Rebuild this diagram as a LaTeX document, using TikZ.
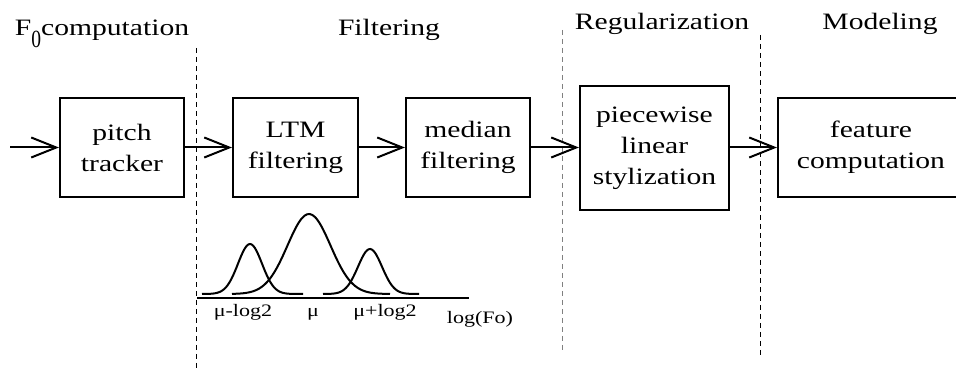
\documentclass[tikz,border=0pt]{standalone}
\usepackage{fontspec}
\setmainfont{Liberation Serif}[FakeStretch=1.26]
\usetikzlibrary{arrows.meta}

\begin{document}
\begin{tikzpicture}[x=1pt,y=-1pt]
    \tikzset{blk/.style={draw, line width=2.2pt, align=center, inner sep=0pt,
        font=\fontsize{23.5}{31}\selectfont}}
    \tikzset{flow/.style={line width=2pt, -{Straight Barb[length=25pt,width=20pt]}}}
    \tikzset{stage/.style={anchor=base, inner sep=0pt, font=\fontsize{23.5}{28}\selectfont}}
    \tikzset{tick/.style={anchor=base, inner sep=0pt, font=\fontsize{17.5}{20}\selectfont}}
    \tikzset{sepline/.style={line width=1pt, dash pattern=on 5pt off 4pt}}
    \tikzset{bump/.style={line width=2pt, smooth, samples=60}}
    \useasboundingbox (0,0) rectangle (956,371);
    % stage titles
    \node[stage] (tF0) at (102,36) {F\raisebox{-0.47em}{\scalebox{0.66}[1.05]{0}}computation};
    \node[stage] (tFilt) at (389,36) {Filtering};
    \node[stage] (tReg) at (662,30) {Regularization};
    \node[stage] (tMod) at (880,30) {Modeling};
    % separators
    \draw[sepline] (196,48) -- (196,371);
    \draw[sepline, gray] (562,30) -- (562,352);
    \draw[sepline] (760,35) -- (760,358);
    % blocks
    \node[blk, minimum width=124pt, minimum height=99pt] (pitch) at (122,147.5) {pitch\\tracker};
    \node[blk, minimum width=125pt, minimum height=99pt] (ltm) at (295.5,147.5) {LTM\\filtering};
    \node[blk, minimum width=124pt, minimum height=99pt] (median) at (468,147.5) {median\\filtering};
    \node[blk, minimum width=149pt, minimum height=124pt] (stylize) at (654.5,148) {piecewise\\linear\\stylization};
    \node[blk, minimum width=186pt, minimum height=99pt] (feature) at (871,147.5) {feature\\computation};
    \coordinate (input) at (10,147.5);
    \draw[flow] (input) -- (pitch.west);
    \draw[flow] (pitch) -- (ltm);
    \draw[flow] (ltm) -- (median);
    \draw[flow] (median.east) -- (stylize.west |- median.east);
    \draw[flow] (stylize.east |- feature.west) -- (feature.west);
    % LTM distributions
    \draw[line width=2pt] (197,298) -- (469,298);
    \draw[bump, domain=202:303] plot (\x, {294-50*exp(-((\x-250)/12)^2/2)});
    \draw[bump, domain=232:390] plot (\x, {294-80*exp(-((\x-309)/21.5)^2/2)});
    \draw[bump, domain=323:419] plot (\x, {294-45*exp(-((\x-370)/12)^2/2)});
    \node[tick] (lo) at (243,317) {μ-log2};
    \node[tick] (mid) at (313,317) {μ};
    \node[tick] (hi) at (385,317) {μ+log2};
    \node[tick] (axis) at (480,324) {log(Fo)};
\end{tikzpicture}
\end{document}
